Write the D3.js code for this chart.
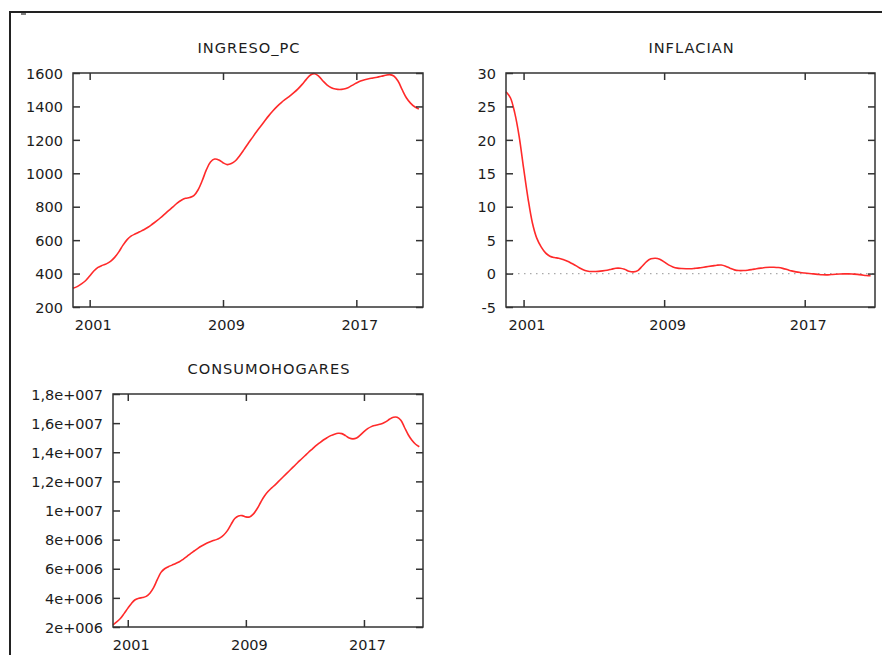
<!DOCTYPE html>
<html>
<head>
<meta charset="utf-8">
<script src="https://cdn.jsdelivr.net/npm/d3@7"></script>
<style>
  html, body { margin: 0; padding: 0; background: #fff; }
  svg { display: block; }
  text { font-family: "DejaVu Sans", Verdana, sans-serif; fill: #1c1c1c; }
</style>
</head>
<body>
<svg id="chart" width="882" height="655"></svg>
<script>
// Quarterly observations, 2000:1 to 2020:4
const quarters = d3.range(84).map(i => 2000 + i / 4);

const ingresoPC = [
  312, 322, 338, 357, 385, 415, 437, 449,
  458, 473, 497, 530, 570, 603, 625, 638,
  650, 662, 677, 695, 714, 734, 756, 778,
  799, 822, 839, 850, 855, 866, 900, 955,
  1020, 1068, 1085, 1080, 1063, 1052, 1058, 1075,
  1105, 1140, 1177, 1212, 1247, 1280, 1313, 1345,
  1374, 1400, 1423, 1443, 1462, 1482, 1505, 1532,
  1562, 1588, 1596, 1580, 1552, 1528, 1512, 1504,
  1501, 1504, 1512, 1526, 1540, 1552, 1560, 1566,
  1570, 1575, 1580, 1586, 1590, 1582, 1552, 1500,
  1452, 1420, 1398, 1385
];

const inflacian = [
  27.2, 26.3, 24.0, 20.5, 15.8, 11.3, 7.6, 5.3,
  4.0, 3.1, 2.6, 2.4, 2.3, 2.1, 1.85, 1.5,
  1.15, 0.75, 0.45, 0.32, 0.3, 0.33, 0.4, 0.5,
  0.65, 0.8, 0.8, 0.65, 0.35, 0.25, 0.45, 1.1,
  1.8, 2.2, 2.3, 2.15, 1.75, 1.3, 1.0, 0.82,
  0.75, 0.72, 0.72, 0.78, 0.85, 0.95, 1.05, 1.15,
  1.25, 1.28, 1.1, 0.8, 0.55, 0.45, 0.45, 0.5,
  0.6, 0.72, 0.82, 0.9, 0.95, 0.95, 0.9, 0.78,
  0.6, 0.4, 0.25, 0.15, 0.08, 0.02, -0.05, -0.12,
  -0.18, -0.2, -0.15, -0.1, -0.07, -0.05, -0.05, -0.08,
  -0.12, -0.2, -0.3, -0.3
];

const consumoHogares = [
  2150000, 2350000, 2580000, 2920000, 3280000, 3620000, 3870000, 3980000,
  4020000, 4100000, 4320000, 4700000, 5250000, 5750000, 6000000, 6140000,
  6250000, 6360000, 6480000, 6650000, 6840000, 7040000, 7220000, 7400000,
  7560000, 7700000, 7820000, 7920000, 8000000, 8120000, 8320000, 8620000,
  9050000, 9450000, 9630000, 9650000, 9560000, 9560000, 9750000, 10100000,
  10550000, 10980000, 11300000, 11550000, 11780000, 12030000, 12280000, 12530000,
  12780000, 13030000, 13280000, 13520000, 13760000, 14000000, 14220000, 14450000,
  14650000, 14840000, 15000000, 15140000, 15240000, 15300000, 15280000, 15140000,
  14980000, 14920000, 14980000, 15180000, 15420000, 15620000, 15760000, 15840000,
  15900000, 15980000, 16100000, 16280000, 16400000, 16400000, 16200000, 15700000,
  15200000, 14820000, 14550000, 14380000
];

// Axis ticks and their labels
const yearTicks = [2001, 2009, 2017];
const ingresoTicks = [200, 400, 600, 800, 1000, 1200, 1400, 1600];
const inflacianTicks = [-5, 0, 5, 10, 15, 20, 25, 30];
const consumoTicks = [2e6, 4e6, 6e6, 8e6, 1e7, 1.2e7, 1.4e7, 1.6e7, 1.8e7];
const consumoTickLabels = ["2e+006", "4e+006", "6e+006", "8e+006", "1e+007",
  "1,2e+007", "1,4e+007", "1,6e+007", "1,8e+007"];

const svg = d3.select("#chart");

// Outer window frame
svg.append("path")
  .attr("d", "M10,655 V12 H882")
  .attr("fill", "none")
  .attr("stroke", "#222")
  .attr("stroke-width", 2);
svg.append("line")
  .attr("x1", 21).attr("x2", 26).attr("y1", 14).attr("y2", 14)
  .attr("stroke", "#555").attr("stroke-width", 1.5);

const panels = [
  { title: "INGRESO_PC", values: ingresoPC, yDomain: [200, 1600], yTicks: ingresoTicks,
    yLabels: ingresoTicks.map(String), box: { x0: 73, x1: 423, y0: 73, y1: 307 }, zeroLine: false },
  { title: "INFLACIAN", values: inflacian, yDomain: [-5, 30], yTicks: inflacianTicks,
    yLabels: inflacianTicks.map(String), box: { x0: 506, x1: 875, y0: 73, y1: 307 }, zeroLine: true },
  { title: "CONSUMOHOGARES", values: consumoHogares, yDomain: [2e6, 1.8e7], yTicks: consumoTicks,
    yLabels: consumoTickLabels, box: { x0: 113, x1: 423, y0: 394, y1: 627 }, zeroLine: false }
];

const TICK = 7;

panels.forEach(p => {
  const b = p.box;
  const x = d3.scaleLinear().domain([2000, 2021]).range([b.x0, b.x1]);
  const y = d3.scaleLinear().domain(p.yDomain).range([b.y1, b.y0]);
  const g = svg.append("g");

  // Title
  g.append("text")
    .attr("x", (b.x0 + b.x1) / 2 + 1)
    .attr("y", b.y0 - 20)
    .attr("text-anchor", "middle")
    .style("font-size", "14.6px")
    .style("letter-spacing", "1px")
    .text(p.title);

  // Zero reference line
  if (p.zeroLine) {
    g.append("line")
      .attr("x1", b.x0).attr("x2", b.x1)
      .attr("y1", y(0)).attr("y2", y(0))
      .attr("stroke", "#aaa")
      .attr("stroke-width", 1.2)
      .attr("stroke-dasharray", "1.5,4.5");
  }

  // Series line
  const line = d3.line()
    .x((d, i) => x(quarters[i]))
    .y(d => y(d))
    .curve(d3.curveCatmullRom.alpha(0.5));
  g.append("path")
    .datum(p.values)
    .attr("d", line)
    .attr("fill", "none")
    .attr("stroke", "#ff2a2a")
    .attr("stroke-width", 1.6)
    .attr("stroke-linejoin", "round");

  // Axes with inward ticks on all four sides
  const tickText = sel => sel.selectAll("text").style("font-size", "14.5px").attr("fill", "#1c1c1c");
  const clean = sel => sel.select(".domain").remove();

  const left = g.append("g").attr("transform", `translate(${b.x0},0)`)
    .call(d3.axisLeft(y).tickValues(p.yTicks).tickFormat((d, i) => p.yLabels[i]).tickSizeInner(-TICK).tickSizeOuter(0).tickPadding(10));
  clean(left);
  tickText(left);
  left.selectAll("text").attr("dy", "0.36em");

  const right = g.append("g").attr("transform", `translate(${b.x1},0)`)
    .call(d3.axisRight(y).tickValues(p.yTicks).tickFormat("").tickSizeInner(-TICK).tickSizeOuter(0));
  clean(right);

  const bottom = g.append("g").attr("transform", `translate(0,${b.y1})`)
    .call(d3.axisBottom(x).tickValues(yearTicks).tickFormat(d3.format("d")).tickSizeInner(-TICK).tickSizeOuter(0).tickPadding(13));
  clean(bottom);
  tickText(bottom);
  bottom.selectAll("text").attr("dx", "3px");

  const top = g.append("g").attr("transform", `translate(0,${b.y0})`)
    .call(d3.axisTop(x).tickValues(yearTicks).tickFormat("").tickSizeInner(-TICK).tickSizeOuter(0));
  clean(top);

  g.selectAll(".tick line").attr("stroke", "#333").attr("stroke-width", 1.5);

  // Plot frame
  g.append("rect")
    .attr("x", b.x0).attr("y", b.y0)
    .attr("width", b.x1 - b.x0).attr("height", b.y1 - b.y0)
    .attr("fill", "none")
    .attr("stroke", "#333")
    .attr("stroke-width", 1.5);
});
</script>
</body>
</html>
